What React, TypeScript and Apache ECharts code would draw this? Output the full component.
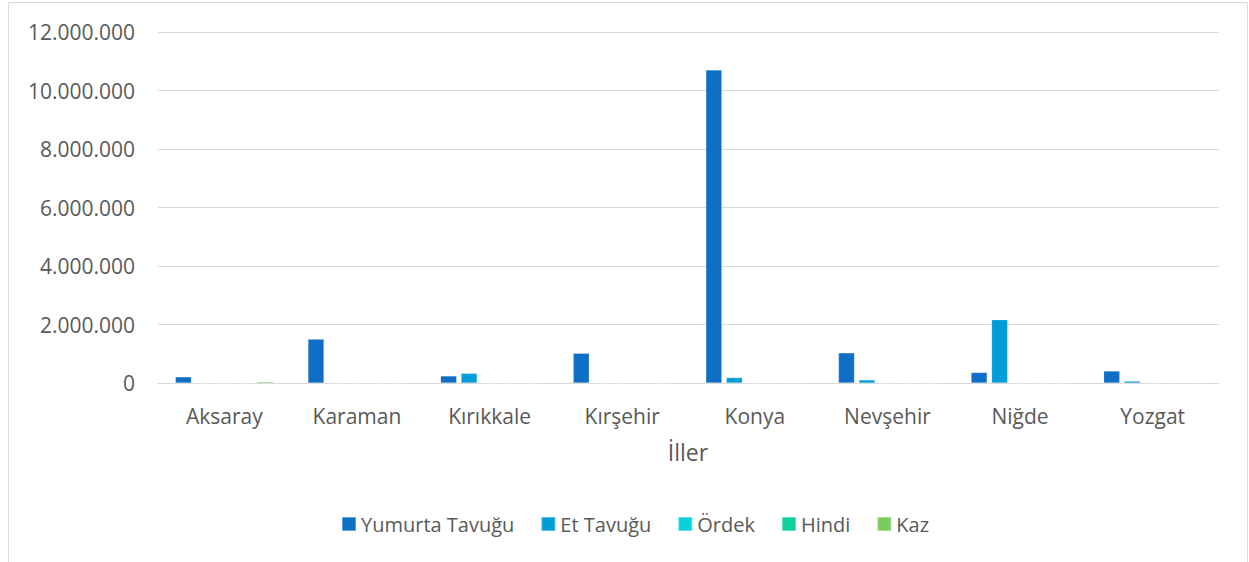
import React, { useEffect, useRef } from "react";
import * as echarts from "echarts";

const categories = ["Aksaray", "Karaman", "Kırıkkale", "Kırşehir", "Konya", "Nevşehir", "Niğde", "Yozgat"];
const yumurtaTavugu = [210000, 1500000, 240000, 1015000, 10700000, 1030000, 360000, 410000];
const etTavugu = [0, 0, 330000, 0, 185000, 105000, 2160000, 65000];
const ordek = [0, 0, 0, 0, 0, 0, 0, 0];
const hindi = [0, 0, 0, 12000, 12000, 0, 0, 12000];
const kaz = [45000, 0, 0, 0, 10000, 0, 0, 12000];
const seriesNames = ["Yumurta Tavuğu", "Et Tavuğu", "Ördek", "Hindi", "Kaz"];
const seriesColors = ["#0F6FC6", "#009DD9", "#0BD0D9", "#10CF9B", "#7CCA62"];
const yTicks = { min: 0, max: 12000000, interval: 2000000 };

const FONT = "'Open Sans', sans-serif";
const TEXT = "#595959";

function fmt(v: number): string {
  return String(Math.round(v)).replace(/\B(?=(\d{3})+(?!\d))/g, ".");
}

export default function App() {
  const ref = useRef<HTMLDivElement>(null);
  useEffect(() => {
    if (!ref.current) return;
    const chart = echarts.init(ref.current, undefined, { renderer: "svg" });
    const data = [yumurtaTavugu, etTavugu, ordek, hindi, kaz];
    chart.setOption({
      animation: false,
      backgroundColor: "#ffffff",
      textStyle: { fontFamily: FONT },
      grid: { left: 158, right: 30, top: 32, bottom: 179 },
      legend: {
        left: 336,
        top: 509,
        itemWidth: 14,
        itemHeight: 14,
        itemGap: 26,
        icon: "rect",
        textStyle: { color: TEXT, fontSize: 20, fontFamily: FONT },
        data: seriesNames,
      },
      graphic: [
        {
          type: "rect",
          shape: { x: 8.5, y: 2.5, width: 1239, height: 620 },
          style: { fill: "none", stroke: "#D9D9D9", lineWidth: 1 },
          silent: true,
        },
        {
          type: "text",
          x: 688,
          y: 452,
          style: {
            text: "İller",
            fill: TEXT,
            fontSize: 23,
            fontFamily: FONT,
            align: "center",
            verticalAlign: "middle",
          },
        },
      ],
      xAxis: {
        type: "category",
        data: categories,
        axisLine: { show: true, lineStyle: { color: "#D9D9D9", width: 1 } },
        axisTick: { show: false },
        axisLabel: { color: TEXT, fontSize: 21, fontFamily: FONT, margin: 22, lineHeight: 21 },
      },
      yAxis: {
        type: "value",
        min: yTicks.min,
        max: yTicks.max,
        interval: yTicks.interval,
        axisLine: { show: false },
        axisTick: { show: false },
        splitLine: { lineStyle: { color: "#D9D9D9", width: 1 } },
        axisLabel: {
          color: TEXT,
          fontSize: 21,
          fontFamily: FONT,
          margin: 23,
          formatter: (v: number) => fmt(v),
        },
      },
      series: seriesNames.map((name, i) => ({
        name,
        type: "bar",
        data: data[i],
        barWidth: 16,
        barGap: "28%",
        itemStyle: { color: seriesColors[i], borderColor: "rgba(255,255,255,0.35)", borderWidth: 0.5 },
      })),
    });
    return () => chart.dispose();
  }, []);
  return (
    <div
      ref={ref}
      style={{ position: "absolute", left: 0, top: 0, width: 1249, height: 562 }}
    />
  );
}
